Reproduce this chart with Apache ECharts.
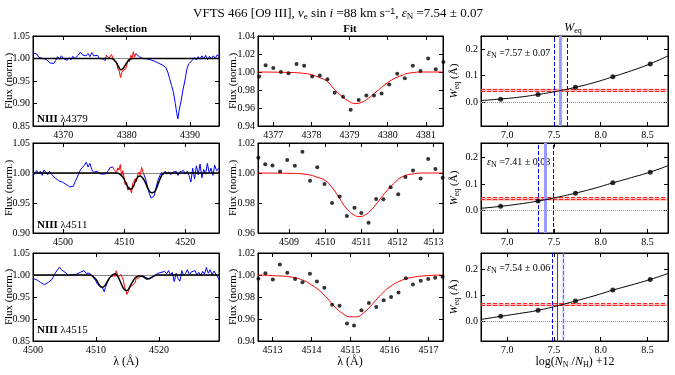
<!DOCTYPE html>
<html>
<head>
<meta charset="utf-8">
<script src="https://cdn.jsdelivr.net/npm/echarts@6/dist/echarts.min.js"></script>
<style>
  html, body { margin: 0; padding: 0; background: #fff; }
  #chartsDiv { width: 675px; height: 375px; }
</style>
</head>
<body>
<div id="chartsDiv"></div>
<script>
// ---- data ----
var lineNames = ['4379', '4511', '4515'];

// observed spectra (blue), outside the selected window
var sel4379Blue = [[4365.2,1.012],[4365.5,1.008],[4365.8,1.010],[4366.1,1.003],[4366.4,1.006],[4366.7,1.000],[4367.0,1.004],[4367.3,0.998],[4367.6,0.994],[4367.9,0.990],[4368.2,0.993],[4368.5,0.989],[4368.8,0.996],[4369.1,1.004],[4369.4,0.998],[4369.7,1.006],[4370.0,1.000],[4370.3,1.004],[4370.6,0.996],[4370.9,1.002],[4371.2,0.997],[4371.5,1.005],[4371.8,1.000],[4372.1,1.003],[4372.4,1.008],[4372.7,1.014],[4373.0,1.008],[4373.3,1.012],[4373.6,1.006],[4373.9,1.011],[4374.2,1.004],[4374.5,1.013],[4374.8,1.006],[4375.1,1.002],[4375.4,1.007],[4375.7,1.000],[4376.0,1.004],[4376.3,0.999],[4376.63,0.995],
  null,
  [4381.46,1.011],[4381.7,1.008],[4382.0,1.004],[4382.3,1.006],[4382.6,1.000],[4382.9,1.003],[4383.2,0.999],[4383.5,1.002],[4383.8,0.997],[4384.1,0.997],[4384.4,0.994],[4384.7,0.992],[4385.0,0.990],[4385.3,0.988],[4385.6,0.986],[4385.9,0.985],[4386.2,0.980],[4386.5,0.970],[4386.8,0.955],[4387.1,0.940],[4387.4,0.925],[4387.7,0.900],[4387.9,0.880],[4388.1,0.866],[4388.3,0.885],[4388.6,0.905],[4388.9,0.930],[4389.2,0.950],[4389.5,0.975],[4389.8,0.988],[4390.1,0.992],[4390.4,0.996],[4390.7,1.002],[4391.0,0.997],[4391.3,1.004],[4391.6,0.998],[4391.9,1.006],[4392.2,0.999],[4392.5,1.007],[4392.8,0.997],[4393.1,1.005],[4393.4,0.999],[4393.7,1.006],[4394.0,1.000],[4394.3,1.008],[4394.6,1.005]];
var sel4511Blue = [[4495.1,0.995],[4495.4,0.998],[4495.7,1.004],[4496.0,0.999],[4496.3,1.003],[4496.6,0.996],[4496.9,1.005],[4497.2,1.001],[4497.5,0.997],[4497.8,1.003],[4498.1,0.998],[4498.4,0.996],[4498.7,0.992],[4499.0,0.990],[4499.3,0.987],[4499.6,0.988],[4499.9,0.985],[4500.2,0.983],[4500.5,0.981],[4500.8,0.979],[4501.1,0.977],[4501.4,0.980],[4501.7,0.978],[4502.0,0.986],[4502.3,0.992],[4502.6,1.000],[4502.9,1.006],[4503.2,1.004],[4503.5,1.013],[4503.8,1.018],[4504.1,1.010],[4504.4,1.016],[4504.7,1.006],[4505.0,1.001],[4505.3,0.998],[4505.6,1.003],[4505.9,0.999],[4506.2,1.002],[4506.5,0.998],[4506.8,1.001],[4507.1,0.999],[4507.4,1.004],[4507.7,1.009],[4508.0,1.006],[4508.15,1.010],
  null,
  [4513.25,0.997],[4513.5,0.990],[4513.8,0.978],[4514.1,0.966],[4514.4,0.958],[4514.6,0.955],[4514.9,0.962],[4515.2,0.975],[4515.5,0.987],[4515.8,0.995],[4516.1,1.001],[4516.4,0.997],[4516.7,1.003],[4517.0,0.998],[4517.3,1.002],[4517.6,0.997],[4517.9,1.001],[4518.2,0.998],[4518.5,1.003],[4518.8,0.996],[4519.1,1.002],[4519.4,0.999],[4519.7,1.004],[4520.0,0.998],[4520.3,1.003],[4520.6,0.996],[4520.9,0.985],[4521.2,1.008],[4521.5,0.990],[4521.8,1.012],[4522.1,0.997],[4522.4,1.015],[4522.7,0.992],[4523.0,1.006],[4523.3,0.998],[4523.6,1.016],[4523.9,1.000],[4524.2,1.008],[4524.5,0.996],[4524.8,1.013],[4525.1,1.004],[4525.5,1.008]];
var sel4515Blue = [[4500.0,0.992],[4500.3,0.991],[4500.6,0.989],[4500.9,0.986],[4501.2,0.983],[4501.5,0.981],[4501.8,0.978],[4502.1,0.977],[4502.4,0.983],[4502.7,0.987],[4503.0,0.990],[4503.3,0.998],[4503.6,1.006],[4503.9,1.010],[4504.2,1.018],[4504.5,1.012],[4504.8,1.014],[4505.1,1.006],[4505.4,1.003],[4505.7,0.999],[4506.0,1.003],[4506.3,1.000],[4506.6,0.998],[4506.9,1.002],[4507.2,1.000],[4507.5,1.006],[4507.8,1.003],[4508.1,1.010],[4508.4,1.004],[4508.7,1.008],[4509.0,1.004],[4509.3,0.999],[4509.6,0.996],[4509.9,0.988],[4510.2,0.980],[4510.5,0.975],[4510.8,0.972],[4511.1,0.969],[4511.3,0.962],[4511.5,0.972],[4511.8,0.984],[4512.1,0.993],[4512.4,0.998],[4512.64,0.997],
  null,
  [4517.36,0.999],[4517.6,1.000],[4517.9,0.994],[4518.2,0.990],[4518.5,0.991],[4518.8,0.994],[4519.1,0.997],[4519.4,1.000],[4519.7,1.003],[4520.0,0.999],[4520.3,1.006],[4520.6,1.002],[4520.9,1.008],[4521.2,1.003],[4521.5,1.010],[4521.8,1.000],[4522.1,1.006],[4522.4,0.985],[4522.7,1.004],[4523.0,0.992],[4523.3,0.986],[4523.6,1.010],[4523.9,0.998],[4524.2,1.004],[4524.5,1.012],[4524.8,1.000],[4525.1,1.007],[4525.4,1.003],[4525.7,1.010],[4526.0,1.000],[4526.3,1.006],[4526.6,0.999],[4526.9,1.008],[4527.2,1.002],[4527.5,1.017],[4527.8,1.004],[4528.1,1.012],[4528.4,1.000],[4528.7,1.009],[4529.0,1.002],[4529.3,1.006],[4529.5,0.990]];

// model spectra (black)
var sel4379Model = [[4365.2,1],[4377.6,1],[4378.0,0.997],[4378.4,0.990],[4378.8,0.980],[4379.1,0.975],[4379.4,0.977],[4379.8,0.986],[4380.2,0.994],[4380.6,0.999],[4381.0,1],[4394.6,1]];
var sel4511Model = [[4495.1,1],[4508.8,1],[4509.3,0.998],[4509.8,0.993],[4510.3,0.983],[4510.7,0.975],[4511.0,0.973],[4511.4,0.976],[4511.8,0.985],[4512.2,0.993],[4512.6,0.995],[4513.0,0.992],[4513.5,0.983],[4514.0,0.972],[4514.5,0.967],[4514.9,0.968],[4515.3,0.975],[4515.7,0.986],[4516.1,0.995],[4516.5,1.0],[4525.5,1]];
var sel4515Model = [[4500,1],[4509.0,1],[4509.5,0.997],[4510.0,0.990],[4510.5,0.978],[4511.0,0.972],[4511.5,0.978],[4512.0,0.990],[4512.5,0.999],[4513.0,1.003],[4513.5,0.995],[4514.0,0.980],[4514.5,0.967],[4514.9,0.965],[4515.3,0.972],[4515.8,0.985],[4516.3,0.995],[4516.8,0.998],[4517.3,0.997],[4517.8,0.993],[4518.2,0.991],[4518.7,0.994],[4519.2,0.998],[4519.7,1],[4529.5,1]];

// selected pixels (red in left column, dots in middle column)
var fit4379Dots = [[4376.63,0.995],[4376.8,1.0075],[4377.0,1.0045],[4377.2,1.000],[4377.4,0.9985],[4377.61,1.009],[4377.81,1.007],[4378.02,0.995],[4378.22,0.996],[4378.42,0.992],[4378.61,0.977],[4378.83,0.9725],[4379.03,0.958],[4379.24,0.969],[4379.44,0.974],[4379.64,0.974],[4379.84,0.976],[4380.04,0.986],[4380.25,0.998],[4380.45,0.993],[4380.66,1.007],[4380.86,1.001],[4381.06,1.015],[4381.26,1.003],[4381.46,1.011]];
var fit4511Dots = [[4508.15,1.0102],[4508.34,1.0059],[4508.54,1.005],[4508.75,1.001],[4508.95,1.0086],[4509.16,1.0048],[4509.37,1.0141],[4509.58,0.9948],[4509.78,1.0039],[4509.98,0.9927],[4510.19,0.980],[4510.4,0.9843],[4510.6,0.9714],[4510.81,0.9768],[4511.0,0.9734],[4511.2,0.9668],[4511.41,0.9827],[4511.61,0.9825],[4511.81,0.9905],[4512.02,0.9859],[4512.22,0.9973],[4512.43,1.0016],[4512.64,0.9964],[4512.85,1.0093],[4513.05,1.0027],[4513.25,0.9968]];
var fit4515Dots = [[4512.64,0.9966],[4512.82,1.0015],[4513.01,0.996],[4513.19,1.0095],[4513.38,1.002],[4513.58,0.9963],[4513.77,0.9935],[4513.96,1.0012],[4514.14,0.9942],[4514.33,0.9883],[4514.53,0.973],[4514.72,0.972],[4514.91,0.956],[4515.09,0.954],[4515.28,0.968],[4515.47,0.9745],[4515.66,0.9708],[4515.85,0.977],[4516.04,0.980],[4516.23,0.984],[4516.42,0.997],[4516.6,0.9914],[4516.8,0.9948],[4516.99,0.9963],[4517.17,0.9975],[4517.36,0.9985]];

// fitted profiles (red, middle column)
var fit4379Curve = [[4376.6,1.0],[4377.4,0.9995],[4377.8,0.9985],[4378.0,0.997],[4378.2,0.994],[4378.4,0.990],[4378.6,0.981],[4378.8,0.973],[4379.0,0.967],[4379.15,0.965],[4379.3,0.966],[4379.5,0.971],[4379.7,0.978],[4379.9,0.985],[4380.1,0.991],[4380.3,0.995],[4380.6,0.999],[4381.0,1.0],[4381.45,1.0]];
var fit4511Curve = [[4508.15,1.0],[4509.0,0.9998],[4509.5,0.999],[4509.8,0.997],[4510.0,0.995],[4510.2,0.990],[4510.4,0.983],[4510.6,0.976],[4510.8,0.972],[4510.95,0.971],[4511.1,0.972],[4511.3,0.976],[4511.5,0.982],[4511.7,0.988],[4511.9,0.993],[4512.1,0.997],[4512.4,0.9993],[4512.8,1.0],[4513.25,1.0]];
var fit4515Curve = [[4512.63,1.0],[4513.0,0.9995],[4513.5,0.998],[4513.8,0.995],[4514.0,0.991],[4514.2,0.986],[4514.4,0.979],[4514.6,0.971],[4514.8,0.965],[4515.0,0.962],[4515.15,0.962],[4515.35,0.966],[4515.55,0.973],[4515.75,0.981],[4516.0,0.989],[4516.3,0.995],[4516.6,0.998],[4517.0,0.9995],[4517.37,1.0]];

// curve of growth (right column)
var cogLogN = [6.93, 7.33, 7.73, 8.13, 8.53];
var cog4379 = [0.011, 0.029, 0.056, 0.096, 0.144];
var cog4511 = [0.015, 0.035, 0.065, 0.104, 0.144];
var cog4515 = [0.018, 0.041, 0.077, 0.119, 0.160];
var cogCurveLogN = [6.72, 6.93, 7.13, 7.33, 7.53, 7.73, 7.93, 8.13, 8.33, 8.53, 8.72];
var cogCurve4379 = [0.006, 0.012, 0.019, 0.029, 0.041, 0.056, 0.074, 0.096, 0.119, 0.145, 0.175];
var cogCurve4511 = [0.0075, 0.015, 0.024, 0.035, 0.049, 0.065, 0.083, 0.104, 0.124, 0.145, 0.169];
var cogCurve4515 = [0.006, 0.018, 0.029, 0.041, 0.058, 0.077, 0.097, 0.119, 0.139, 0.160, 0.183];
var weqObs = [0.045, 0.042, 0.062];
var weqErr = [0.006, 0.006, 0.004];
var epsN = [7.57, 7.41, 7.54];
var epsErr = [0.07, 0.08, 0.06];

// axis ranges and tick labels
var selXRange = [[4365.2, 4394.6], [4495.1, 4525.5], [4500.0, 4529.5]];
var selYRange = [[0.85, 1.05], [0.90, 1.05], [0.85, 1.05]];
var selXTicks = [[4370, 4380, 4390], [4500, 4510, 4520], [4500, 4510, 4520]];
var selYTicks = [[0.85, 0.90, 0.95, 1.00, 1.05], [0.90, 0.95, 1.00, 1.05], [0.85, 0.90, 0.95, 1.00, 1.05]];
var fitXRange = [[4376.6, 4381.45], [4508.14, 4513.26], [4512.63, 4517.37]];
var fitYRange = [[0.94, 1.04], [0.96, 1.02], [0.94, 1.02]];
var fitXTicks = [[4377, 4378, 4379, 4380, 4381], [4509, 4510, 4511, 4512, 4513], [4513, 4514, 4515, 4516, 4517]];
var fitYTicks = [[0.94, 0.96, 0.98, 1.00, 1.02, 1.04], [0.96, 0.98, 1.00, 1.02], [0.94, 0.96, 0.98, 1.00, 1.02]];
var cogXRange = [6.72, 8.72];
var cogYRange = [[-0.09, 0.25], [-0.086, 0.255], [-0.077, 0.262]];
var cogXTicks = [7.0, 7.5, 8.0, 8.5];
var cogYTicks = [0.0, 0.1, 0.2];

var selBlue = [sel4379Blue, sel4511Blue, sel4515Blue];
var selModel = [sel4379Model, sel4511Model, sel4515Model];
var fitDots = [fit4379Dots, fit4511Dots, fit4515Dots];
var fitCurve = [fit4379Curve, fit4511Curve, fit4515Curve];
var cogDots = [cog4379, cog4511, cog4515];
var cogCurve = [cogCurve4379, cogCurve4511, cogCurve4515];

// ---- layout ----
var FONT = 'Liberation Serif';
var colLeft = [33, 258, 481];
var colWidth = [186, 185, 187];
var rowTop = [36, 143, 253];
var rowHeight = [90, 90, 88];

var grids = [], xAxes = [], yAxes = [], series = [];

function zip(xs, ys) {
  return xs.map(function (x, i) { return [x, ys[i]]; });
}

function addPanel(col, row, xr, xticks, xdec, yr, yticks, ydec) {
  var gi = grids.length;
  grids.push({
    left: colLeft[col], top: rowTop[row], width: colWidth[col], height: rowHeight[row],
    show: true, borderColor: '#000', borderWidth: 1, backgroundColor: 'transparent',
    containLabel: false, outerBoundsMode: 'none'
  });
  ['bottom', 'top'].forEach(function (pos) {
    xAxes.push({
      type: 'value', gridIndex: gi, position: pos, min: xr[0], max: xr[1],
      axisLine: { show: true, onZero: false, lineStyle: { color: '#000', width: 1 } },
      axisTick: { show: true, inside: true, length: 4, customValues: xticks, lineStyle: { color: '#000' } },
      axisLabel: {
        show: pos === 'bottom', customValues: xticks, margin: 4,
        color: '#000', fontFamily: FONT, fontSize: 10,
        formatter: function (v) { return v.toFixed(xdec); }
      },
      splitLine: { show: false }
    });
  });
  ['left', 'right'].forEach(function (pos) {
    yAxes.push({
      type: 'value', gridIndex: gi, position: pos, min: yr[0], max: yr[1],
      axisLine: { show: true, onZero: false, lineStyle: { color: '#000', width: 1 } },
      axisTick: { show: true, inside: true, length: 4, customValues: yticks, lineStyle: { color: '#000' } },
      axisLabel: {
        show: pos === 'left', customValues: yticks, margin: 3,
        color: '#000', fontFamily: FONT, fontSize: 10,
        formatter: function (v) { return v.toFixed(ydec); }
      },
      splitLine: { show: false }
    });
  });
  return 2 * gi;
}

function lineSeries(ax, data, color, width, smooth, z) {
  return {
    type: 'line', xAxisIndex: ax, yAxisIndex: ax, data: data,
    showSymbol: false, smooth: smooth, connectNulls: false, z: z,
    lineStyle: { color: color, width: width }, itemStyle: { color: color },
    silent: true
  };
}

for (var r = 0; r < 3; r++) {
  // Selection: continuum, observed spectrum, selected pixels, model
  var a = addPanel(0, r, selXRange[r], selXTicks[r], 0, selYRange[r], selYTicks[r], 2);
  var cont = lineSeries(a, [], '#888', 1, false, 1);
  cont.markLine = {
    silent: true, symbol: 'none', label: { show: false }, z: 1,
    data: [{ yAxis: 1, lineStyle: { color: '#888', width: 1, type: 'solid' } }]
  };
  series.push(cont);
  series.push(lineSeries(a, selBlue[r], '#0000ff', 1, false, 2));
  series.push(lineSeries(a, fitDots[r], '#ff0000', 1, false, 3));
  series.push(lineSeries(a, selModel[r], '#000', 1.5, true, 6));

  // Fit
  var b = addPanel(1, r, fitXRange[r], fitXTicks[r], 0, fitYRange[r], fitYTicks[r], 2);
  series.push(lineSeries(b, fitCurve[r], '#ff0000', 1, true, 2));
  series.push({
    type: 'scatter', xAxisIndex: b, yAxisIndex: b, data: fitDots[r],
    symbolSize: 4, itemStyle: { color: '#000' }, z: 3, silent: true, clip: false
  });

  // Curve of growth
  var c = addPanel(2, r, cogXRange, cogXTicks, 1, cogYRange[r], cogYTicks, 1);
  var lo = weqObs[r] - weqErr[r], hi = weqObs[r] + weqErr[r];
  var ml = [
    { yAxis: 0, lineStyle: { color: '#999', width: 1, type: 'dotted' } },
    { yAxis: lo, lineStyle: { color: '#ff2020', width: 1, type: [4, 2] } },
    { yAxis: hi, lineStyle: { color: '#ff2020', width: 1, type: [4, 2] } },
    { xAxis: epsN[r] - epsErr[r], lineStyle: { color: '#0000ff', width: 1, type: [4, 2] } },
    { xAxis: epsN[r] + epsErr[r], lineStyle: { color: r === 2 ? '#6666ff' : '#0000ff', width: 1, type: [4, 2] } },
    { xAxis: epsN[r], lineStyle: r === 2 ? { color: '#3333ff', width: 1, type: 'solid' } : { color: '#9999ff', width: 3, type: 'solid' } }
  ];
  var ma = [[{ yAxis: lo }, { yAxis: hi }]];
  if (r === 2) {
    ma.push([{ xAxis: epsN[r] + epsErr[r] - 0.012, itemStyle: { color: 'rgba(120,120,255,0.35)' } }, { xAxis: epsN[r] + epsErr[r] + 0.012 }]);
  }
  var curve = lineSeries(c, zip(cogCurveLogN, cogCurve[r]), '#000', 1, true, 4);
  curve.markLine = { silent: true, symbol: 'none', label: { show: false }, data: ml, z: 2 };
  curve.markArea = { silent: true, z: 1, itemStyle: { color: 'rgba(255,100,100,0.45)' }, data: ma };
  series.push(curve);
  series.push({
    type: 'scatter', xAxisIndex: c, yAxisIndex: c, data: zip(cogLogN, cogDots[r]),
    symbolSize: 5, itemStyle: { color: '#000' }, z: 5, silent: true
  });
}

// ---- texts ----
var sub = { fontSize: 8, fontFamily: FONT, verticalAlign: 'bottom', lineHeight: 14 };
var ital = { fontStyle: 'italic', fontFamily: FONT };
var graphics = [];

function txt(x, y, text, size, weight, rich, rot, align) {
  var rs = {};
  Object.keys(rich || {}).forEach(function (k) {
    rs[k] = Object.assign({ fontSize: size }, rich[k]);
  });
  graphics.push({
    type: 'text', x: x, y: y, rotation: rot || 0, silent: true,
    style: {
      text: text, fill: '#000', fontFamily: FONT, fontSize: size, fontWeight: weight || 'normal',
      align: align || 'center', verticalAlign: 'middle', rich: rs
    }
  });
}

txt(338, 14, 'VFTS 466 [O9 III], {i|v}{s|e} sin {i|i} =88 km s{p|−1}, {i|ε}{s|N} =7.54 ± 0.07', 13, 'normal',
  { i: ital, s: Object.assign({}, sub, { fontSize: 9 }), p: { fontSize: 9, verticalAlign: 'top', lineHeight: 14 } });
txt(126, 29, 'Selection', 11, 'bold');
txt(350, 29, 'Fit', 11, 'bold');
txt(573, 28, '{i|W}{s|eq}', 12, 'normal', { i: ital, s: sub });

var rowMid = [81, 188, 297];
var annY = [119, 225, 330];
var epsY = [53, 162, 268];
for (var k = 0; k < 3; k++) {
  txt(9, rowMid[k], 'Flux (norm.)', 11, 'normal', null, Math.PI / 2);
  txt(233, rowMid[k], 'Flux (norm.)', 11, 'normal', null, Math.PI / 2);
  txt(454, rowMid[k], '{i|W}{s|eq} (Å)', 11, 'normal', { i: ital, s: sub }, Math.PI / 2);
  txt(37, annY[k], '{b|NIII} {n|λ' + lineNames[k] + '}', 11, 'normal',
    { b: { fontWeight: 'bold', fontFamily: FONT }, n: { fontFamily: FONT } }, 0, 'left');
  txt(487, epsY[k], '{i|ε}{s|N} =' + epsN[k].toFixed(2) + ' ± ' + epsErr[k].toFixed(2), 10, 'normal',
    { i: ital, s: sub }, 0, 'left');
}
txt(126, 362, 'λ (Å)', 12);
txt(350, 362, 'λ (Å)', 12);
txt(575, 362, 'log({i|N}{s|N} /{i|N}{s|H}) +12', 12, 'normal', { i: ital, s: sub });

var chart = echarts.init(document.getElementById('chartsDiv'), null, { renderer: 'canvas' });
chart.setOption({
  animation: false,
  backgroundColor: '#fff',
  grid: grids,
  xAxis: xAxes,
  yAxis: yAxes,
  series: series,
  graphic: graphics
});
</script>
</body>
</html>
